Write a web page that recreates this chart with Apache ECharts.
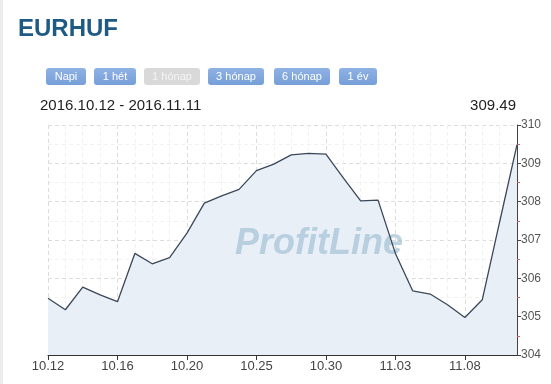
<!DOCTYPE html>
<html>
<head>
<meta charset="utf-8">
<script src="https://cdn.jsdelivr.net/npm/echarts@6/dist/echarts.min.js"></script>
<style>
html,body{margin:0;padding:0;background:#fff;}
#c{width:551px;height:384px;}
</style>
</head>
<body>
<div id="c"></div>
<script>
var dates = ['10.12','10.13','10.14','10.15','10.16','10.17','10.18','10.19','10.20','10.21','10.22','10.24','10.25','10.26','10.27','10.28','10.30','10.31','11.01','11.02','11.03','11.04','11.05','11.07','11.08','11.09','11.10','11.11'];
var values = [305.48,305.18,305.77,305.57,305.39,306.65,306.38,306.54,307.18,307.96,308.15,308.32,308.81,308.98,309.22,309.26,309.24,308.62,308.02,308.04,306.65,305.67,305.59,305.31,304.98,305.44,307.47,309.49];
var yTicks = [304,305,306,307,308,309,310];
var buttons = ['Napi','1 hét','1 hónap','3 hónap','6 hónap','1 év'];
var activeBtn = [true,true,false,true,true,true];
var titleText = 'EURHUF';
var rangeText = '2016.10.12 - 2016.11.11';
var lastValue = '309.49';

var btnPos = [[46,40],[94,42],[144,56],[208,56],[274,56],[339,38]];
var graphics = [];
graphics.push({type:'rect', shape:{x:0,y:0,width:3,height:384}, style:{fill:'#ececec'}, silent:true});
graphics.push({type:'text', x:18, y:29, style:{text:titleText, font:'bold 24px "Liberation Sans", Arial, sans-serif', fill:'#1d5a84', textVerticalAlign:'middle'}});
buttons.forEach(function(b,i){
  var p = btnPos[i];
  var on = activeBtn[i];
  graphics.push({type:'rect', shape:{x:p[0], y:68, width:p[1], height:17, r:3},
    style:{fill: on ? new echarts.graphic.LinearGradient(0,0,0,1,[{offset:0,color:'#8fb2e4'},{offset:1,color:'#769ed8'}]) : '#d9d9d9'}});
  graphics.push({type:'text', x:p[0]+p[1]/2, y:76.5, style:{text:b, font:'11px "Liberation Sans", Arial, sans-serif', fill: on ? '#ffffff' : '#f4f4f4', textAlign:'center', textVerticalAlign:'middle'}});
});
graphics.push({type:'text', x:40, y:105.5, style:{text:rangeText, font:'15px "Liberation Sans", Arial, sans-serif', fill:'#222', textVerticalAlign:'middle'}});
graphics.push({type:'text', x:516, y:105.5, style:{text:lastValue, font:'15px "Liberation Sans", Arial, sans-serif', fill:'#222', textAlign:'right', textVerticalAlign:'middle'}});
graphics.push({type:'text', x:319, y:244, z:2, silent:true, style:{text:'ProfitLine', font:'italic bold 36px "Liberation Sans", Arial, sans-serif', fill:'rgba(168,196,215,0.75)', textAlign:'center', textVerticalAlign:'middle'}});

var pts = values.map(function(v,i){return [i,v];});

var chart = echarts.init(document.getElementById('c'), null, {renderer:'canvas'});
chart.setOption({
  animation:false,
  backgroundColor:'#ffffff',
  grid:{left:48, right:34, top:125, bottom:29, containLabel:false},
  graphic: graphics,
  xAxis:{
    type:'value', min:0, max:dates.length-1, interval:4,
    axisLine:{show:true, onZero:false, lineStyle:{color:'#333', width:1}},
    axisTick:{show:true, length:5, lineStyle:{color:'#333'}},
    minorTick:{show:false, splitNumber:4},
    axisLabel:{show:true, showMaxLabel:false, margin:5, fontSize:13, color:'#444', fontFamily:'"Liberation Sans", Arial, sans-serif',
      formatter:function(v){ return (v % 4 === 0 && dates[v]) ? dates[v] : ''; }},
    splitLine:{show:true, lineStyle:{color:'#dcdcdc', type:[4,3]}},
    minorSplitLine:{show:true, lineStyle:{color:'#f1f1f1', type:[4,3]}}
  },
  yAxis:{
    type:'value', position:'right', min:yTicks[0], max:yTicks[yTicks.length-1], interval:1,
    axisLine:{show:true, onZero:false, lineStyle:{color:'#444', width:1}},
    axisTick:{show:true, length:4, lineStyle:{color:'#444'}},
    minorTick:{show:true, splitNumber:2, length:3, lineStyle:{color:'#c66'}},
    axisLabel:{margin:4, fontSize:12, color:'#555', fontFamily:'"Liberation Sans", Arial, sans-serif'},
    splitLine:{show:true, lineStyle:{color:'#dcdcdc', type:[4,3]}},
    minorSplitLine:{show:true, lineStyle:{color:'#f1f1f1', type:[4,3]}}
  },
  series:[
    {type:'line', data:pts, z:1, symbol:'none', silent:true,
      lineStyle:{width:0, opacity:0}, areaStyle:{color:'#e8eff7', opacity:1}},
    {type:'line', data:pts, z:3, symbol:'none', silent:true,
      lineStyle:{width:1.3, color:'#3b4858'}}
  ]
});
</script>
</body>
</html>
